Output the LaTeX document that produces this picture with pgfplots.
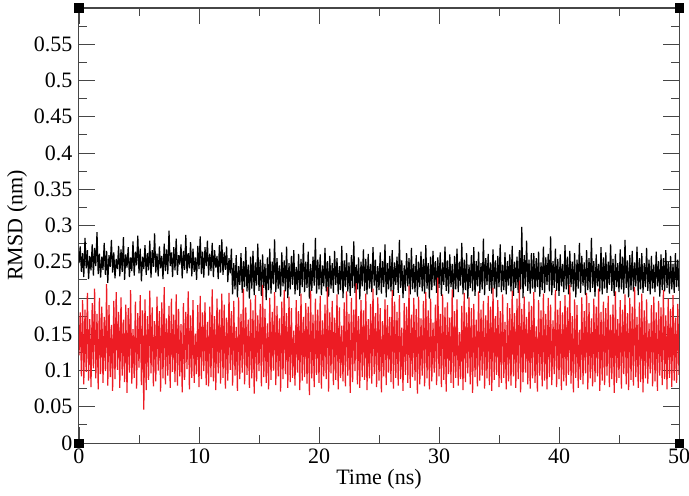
\documentclass[border=0pt]{standalone}
\usepackage{fontspec}
\setmainfont{Liberation Serif}
\usepackage{pgfplots}
\usepackage{pgfplotstable}
\pgfplotsset{compat=1.18}
\definecolor{rmsdred}{RGB}{237,28,36}
\definecolor{axgray}{RGB}{70,70,70}

\pgfplotstableread[row sep=\\]{
y\\
0.248\\ 0.271\\ 0.236\\ 0.262\\ 0.229\\ 0.283\\ 0.241\\ 0.266\\ 0.226\\ 0.258\\ 0.238\\ 0.274\\ 0.231\\ 0.269\\ 0.244\\ 0.291\\ 0.233\\ 0.261\\ 0.228\\ 0.257\\
0.239\\ 0.276\\ 0.232\\ 0.265\\ 0.221\\ 0.259\\ 0.243\\ 0.280\\ 0.235\\ 0.263\\ 0.227\\ 0.254\\ 0.240\\ 0.272\\ 0.230\\ 0.267\\ 0.236\\ 0.284\\ 0.225\\ 0.260\\
0.242\\ 0.270\\ 0.229\\ 0.256\\ 0.237\\ 0.278\\ 0.231\\ 0.264\\ 0.245\\ 0.286\\ 0.234\\ 0.268\\ 0.223\\ 0.257\\ 0.240\\ 0.273\\ 0.232\\ 0.262\\ 0.238\\ 0.279\\
0.228\\ 0.266\\ 0.243\\ 0.289\\ 0.235\\ 0.261\\ 0.230\\ 0.271\\ 0.241\\ 0.258\\ 0.226\\ 0.275\\ 0.237\\ 0.267\\ 0.233\\ 0.293\\ 0.244\\ 0.263\\ 0.229\\ 0.270\\
0.238\\ 0.282\\ 0.232\\ 0.259\\ 0.246\\ 0.274\\ 0.227\\ 0.265\\ 0.239\\ 0.287\\ 0.234\\ 0.262\\ 0.241\\ 0.277\\ 0.230\\ 0.268\\ 0.236\\ 0.256\\ 0.225\\ 0.272\\
0.240\\ 0.285\\ 0.233\\ 0.264\\ 0.228\\ 0.270\\ 0.244\\ 0.279\\ 0.231\\ 0.261\\ 0.237\\ 0.276\\ 0.229\\ 0.266\\ 0.242\\ 0.258\\ 0.226\\ 0.273\\ 0.235\\ 0.281\\
0.232\\ 0.263\\ 0.239\\ 0.271\\ 0.222\\ 0.255\\ 0.234\\ 0.268\\
0.205\\ 0.248\\ 0.212\\ 0.259\\ 0.201\\ 0.244\\ 0.218\\ 0.262\\ 0.207\\ 0.251\\ 0.215\\ 0.270\\ 0.209\\ 0.246\\ 0.199\\ 0.257\\ 0.213\\ 0.265\\ 0.204\\ 0.249\\
0.217\\ 0.275\\ 0.210\\ 0.253\\ 0.203\\ 0.260\\ 0.214\\ 0.247\\ 0.197\\ 0.256\\ 0.211\\ 0.268\\ 0.206\\ 0.250\\ 0.219\\ 0.281\\ 0.208\\ 0.255\\ 0.213\\ 0.245\\
0.202\\ 0.263\\ 0.216\\ 0.252\\ 0.209\\ 0.271\\ 0.200\\ 0.248\\ 0.212\\ 0.258\\ 0.218\\ 0.266\\ 0.205\\ 0.243\\ 0.211\\ 0.261\\ 0.203\\ 0.254\\ 0.215\\ 0.276\\
0.208\\ 0.250\\ 0.214\\ 0.264\\ 0.199\\ 0.247\\ 0.210\\ 0.257\\ 0.217\\ 0.283\\ 0.206\\ 0.253\\ 0.212\\ 0.260\\ 0.204\\ 0.245\\ 0.216\\ 0.269\\ 0.209\\ 0.251\\
0.202\\ 0.258\\ 0.213\\ 0.248\\ 0.207\\ 0.265\\ 0.218\\ 0.255\\ 0.205\\ 0.244\\ 0.211\\ 0.272\\ 0.200\\ 0.252\\ 0.215\\ 0.262\\ 0.209\\ 0.249\\ 0.203\\ 0.259\\
0.214\\ 0.278\\ 0.207\\ 0.246\\ 0.212\\ 0.256\\ 0.198\\ 0.250\\ 0.216\\ 0.267\\ 0.210\\ 0.254\\ 0.205\\ 0.261\\ 0.213\\ 0.247\\ 0.208\\ 0.270\\ 0.217\\ 0.253\\
0.204\\ 0.244\\ 0.211\\ 0.263\\ 0.206\\ 0.251\\ 0.215\\ 0.274\\ 0.201\\ 0.248\\ 0.212\\ 0.258\\ 0.209\\ 0.266\\ 0.203\\ 0.249\\ 0.218\\ 0.257\\ 0.207\\ 0.280\\
0.214\\ 0.252\\ 0.200\\ 0.245\\ 0.210\\ 0.262\\ 0.216\\ 0.255\\ 0.205\\ 0.269\\ 0.212\\ 0.247\\ 0.208\\ 0.259\\ 0.202\\ 0.250\\ 0.215\\ 0.264\\ 0.209\\ 0.254\\
0.206\\ 0.273\\ 0.213\\ 0.248\\ 0.199\\ 0.257\\ 0.211\\ 0.265\\ 0.217\\ 0.251\\
0.207\\ 0.256\\ 0.214\\ 0.263\\ 0.203\\ 0.249\\ 0.218\\ 0.271\\ 0.210\\ 0.252\\ 0.206\\ 0.260\\ 0.215\\ 0.247\\ 0.201\\ 0.258\\ 0.212\\ 0.268\\ 0.208\\ 0.250\\
0.217\\ 0.276\\ 0.205\\ 0.253\\ 0.211\\ 0.262\\ 0.199\\ 0.246\\ 0.214\\ 0.259\\ 0.209\\ 0.270\\ 0.203\\ 0.251\\ 0.216\\ 0.264\\ 0.207\\ 0.248\\ 0.212\\ 0.282\\
0.204\\ 0.255\\ 0.218\\ 0.261\\ 0.210\\ 0.249\\ 0.206\\ 0.267\\ 0.213\\ 0.252\\ 0.201\\ 0.258\\ 0.215\\ 0.274\\ 0.208\\ 0.246\\ 0.211\\ 0.263\\ 0.205\\ 0.251\\
0.217\\ 0.260\\ 0.209\\ 0.272\\ 0.203\\ 0.250\\ 0.214\\ 0.257\\ 0.207\\ 0.266\\ 0.212\\ 0.298\\ 0.200\\ 0.259\\ 0.216\\ 0.279\\ 0.210\\ 0.253\\ 0.206\\ 0.262\\
0.213\\ 0.262\\ 0.208\\ 0.255\\ 0.215\\ 0.264\\ 0.202\\ 0.249\\ 0.211\\ 0.271\\ 0.207\\ 0.256\\ 0.218\\ 0.261\\ 0.209\\ 0.285\\ 0.204\\ 0.251\\ 0.214\\ 0.268\\
0.210\\ 0.254\\ 0.203\\ 0.260\\ 0.216\\ 0.247\\ 0.208\\ 0.273\\ 0.212\\ 0.257\\ 0.205\\ 0.265\\ 0.215\\ 0.250\\ 0.209\\ 0.262\\ 0.201\\ 0.253\\ 0.213\\ 0.276\\
0.207\\ 0.258\\ 0.217\\ 0.249\\ 0.204\\ 0.266\\ 0.211\\ 0.255\\ 0.208\\ 0.283\\ 0.214\\ 0.251\\ 0.202\\ 0.260\\ 0.216\\ 0.247\\ 0.209\\ 0.270\\ 0.205\\ 0.256\\
0.213\\ 0.263\\ 0.207\\ 0.250\\ 0.218\\ 0.274\\ 0.210\\ 0.254\\ 0.203\\ 0.261\\ 0.215\\ 0.248\\ 0.208\\ 0.267\\ 0.212\\ 0.257\\ 0.206\\ 0.280\\ 0.214\\ 0.252\\
0.201\\ 0.259\\ 0.211\\ 0.265\\ 0.209\\ 0.249\\ 0.216\\ 0.271\\ 0.204\\ 0.255\\ 0.212\\ 0.262\\ 0.207\\ 0.248\\ 0.215\\ 0.269\\ 0.210\\ 0.253\\ 0.205\\ 0.258\\
0.213\\ 0.246\\ 0.208\\ 0.264\\ 0.216\\ 0.251\\ 0.202\\ 0.260\\ 0.211\\ 0.255\\ 0.209\\ 0.266\\ 0.214\\ 0.250\\ 0.206\\ 0.258\\ 0.212\\ 0.247\\ 0.207\\ 0.262\\
0.215\\ 0.253\\ 0.210\\
}\blackdata

\pgfplotstableread[row sep=\\]{
y\\
0.121\\ 0.180\\ 0.092\\ 0.197\\ 0.081\\ 0.184\\ 0.098\\ 0.207\\ 0.086\\ 0.171\\ 0.077\\ 0.193\\ 0.103\\ 0.213\\ 0.089\\ 0.178\\ 0.074\\ 0.200\\ 0.095\\ 0.188\\
0.083\\ 0.174\\ 0.099\\ 0.219\\ 0.079\\ 0.190\\ 0.091\\ 0.163\\ 0.072\\ 0.196\\ 0.088\\ 0.208\\ 0.101\\ 0.181\\ 0.076\\ 0.201\\ 0.093\\ 0.170\\ 0.084\\ 0.191\\
0.069\\ 0.186\\ 0.097\\ 0.211\\ 0.082\\ 0.157\\ 0.090\\ 0.195\\ 0.075\\ 0.179\\ 0.104\\ 0.204\\ 0.080\\ 0.183\\ 0.046\\ 0.198\\ 0.073\\ 0.175\\ 0.087\\ 0.210\\
0.096\\ 0.187\\ 0.078\\ 0.168\\ 0.085\\ 0.202\\ 0.100\\ 0.182\\ 0.071\\ 0.194\\ 0.089\\ 0.215\\ 0.081\\ 0.172\\ 0.093\\ 0.189\\ 0.076\\ 0.199\\ 0.098\\ 0.177\\
0.084\\ 0.205\\ 0.079\\ 0.185\\ 0.092\\ 0.164\\ 0.070\\ 0.193\\ 0.087\\ 0.181\\ 0.102\\ 0.209\\ 0.074\\ 0.176\\ 0.090\\ 0.197\\ 0.083\\ 0.151\\ 0.095\\ 0.190\\
0.077\\ 0.203\\ 0.088\\ 0.180\\ 0.099\\ 0.194\\ 0.080\\ 0.167\\ 0.078\\ 0.188\\ 0.091\\ 0.212\\ 0.085\\ 0.175\\ 0.073\\ 0.199\\ 0.096\\ 0.184\\ 0.082\\ 0.206\\
0.090\\ 0.191\\ 0.075\\ 0.173\\ 0.086\\ 0.207\\ 0.101\\ 0.182\\ 0.079\\ 0.196\\ 0.093\\ 0.160\\ 0.072\\ 0.201\\ 0.088\\ 0.178\\ 0.097\\ 0.213\\ 0.081\\ 0.187\\
0.094\\ 0.170\\ 0.076\\ 0.198\\ 0.089\\ 0.183\\ 0.068\\ 0.204\\ 0.085\\ 0.176\\ 0.099\\ 0.192\\ 0.078\\ 0.218\\ 0.091\\ 0.185\\ 0.083\\ 0.165\\ 0.074\\ 0.200\\
0.087\\ 0.181\\ 0.100\\ 0.208\\ 0.080\\ 0.189\\ 0.092\\ 0.172\\ 0.071\\ 0.195\\ 0.088\\ 0.211\\ 0.095\\ 0.179\\ 0.076\\ 0.202\\ 0.084\\ 0.186\\ 0.090\\ 0.155\\
0.079\\ 0.197\\ 0.097\\ 0.182\\ 0.073\\ 0.206\\ 0.086\\ 0.174\\ 0.091\\ 0.193\\ 0.082\\ 0.188\\ 0.066\\ 0.210\\ 0.089\\ 0.177\\ 0.077\\ 0.199\\ 0.094\\ 0.184\\
0.083\\ 0.203\\ 0.075\\ 0.169\\ 0.092\\ 0.191\\ 0.088\\ 0.215\\ 0.071\\ 0.180\\ 0.096\\ 0.196\\ 0.080\\ 0.173\\ 0.087\\ 0.205\\ 0.074\\ 0.187\\ 0.090\\ 0.162\\
0.085\\ 0.194\\ 0.078\\ 0.209\\ 0.093\\ 0.178\\ 0.069\\ 0.200\\ 0.084\\ 0.184\\ 0.099\\ 0.220\\ 0.081\\ 0.175\\ 0.076\\ 0.197\\ 0.091\\ 0.183\\ 0.087\\ 0.206\\
0.073\\ 0.171\\ 0.089\\ 0.192\\ 0.082\\ 0.213\\ 0.095\\ 0.179\\ 0.077\\ 0.201\\ 0.086\\ 0.186\\ 0.070\\ 0.168\\ 0.092\\ 0.198\\ 0.080\\ 0.190\\ 0.097\\ 0.174\\
0.084\\ 0.211\\ 0.075\\ 0.195\\ 0.090\\ 0.181\\ 0.079\\ 0.204\\ 0.088\\ 0.159\\ 0.072\\ 0.193\\ 0.094\\ 0.188\\ 0.083\\ 0.217\\ 0.076\\ 0.177\\ 0.091\\ 0.200\\
0.086\\ 0.185\\ 0.068\\ 0.202\\ 0.081\\ 0.172\\ 0.093\\ 0.196\\ 0.078\\ 0.208\\ 0.089\\ 0.183\\ 0.074\\ 0.199\\ 0.085\\ 0.166\\ 0.097\\ 0.191\\ 0.080\\ 0.228\\
0.092\\ 0.178\\ 0.077\\ 0.205\\ 0.087\\ 0.187\\ 0.071\\ 0.194\\ 0.095\\ 0.173\\ 0.083\\ 0.212\\ 0.076\\ 0.182\\ 0.090\\ 0.198\\ 0.079\\ 0.153\\ 0.088\\ 0.189\\
0.073\\ 0.207\\ 0.084\\ 0.180\\ 0.096\\ 0.201\\ 0.081\\ 0.186\\ 0.069\\ 0.192\\ 0.091\\ 0.170\\ 0.078\\ 0.209\\ 0.086\\ 0.184\\ 0.093\\ 0.196\\ 0.075\\ 0.176\\
0.089\\ 0.203\\ 0.080\\ 0.188\\ 0.072\\ 0.214\\ 0.087\\ 0.175\\ 0.094\\ 0.197\\ 0.077\\ 0.182\\ 0.083\\ 0.205\\ 0.090\\ 0.167\\ 0.074\\ 0.193\\ 0.085\\ 0.186\\
0.079\\ 0.210\\ 0.092\\ 0.179\\ 0.076\\ 0.199\\ 0.088\\ 0.224\\ 0.070\\ 0.185\\ 0.084\\ 0.202\\ 0.097\\ 0.174\\ 0.081\\ 0.195\\ 0.075\\ 0.189\\ 0.089\\ 0.208\\
0.083\\ 0.161\\ 0.071\\ 0.197\\ 0.093\\ 0.183\\ 0.078\\ 0.206\\ 0.086\\ 0.178\\ 0.074\\ 0.200\\ 0.091\\ 0.191\\ 0.080\\ 0.169\\ 0.095\\ 0.211\\ 0.077\\ 0.184\\
0.088\\ 0.196\\ 0.073\\ 0.180\\ 0.085\\ 0.204\\ 0.079\\ 0.187\\ 0.094\\ 0.218\\ 0.082\\ 0.175\\ 0.070\\ 0.198\\ 0.090\\ 0.190\\ 0.076\\ 0.156\\ 0.087\\ 0.201\\
0.081\\ 0.182\\ 0.096\\ 0.207\\ 0.074\\ 0.193\\ 0.089\\ 0.172\\ 0.078\\ 0.199\\ 0.084\\ 0.188\\ 0.092\\ 0.213\\ 0.072\\ 0.181\\ 0.086\\ 0.195\\ 0.080\\ 0.186\\
0.093\\ 0.203\\ 0.077\\ 0.177\\ 0.088\\ 0.191\\ 0.069\\ 0.209\\ 0.083\\ 0.171\\ 0.090\\ 0.197\\ 0.075\\ 0.184\\ 0.095\\ 0.205\\ 0.081\\ 0.179\\ 0.073\\ 0.200\\
0.087\\ 0.188\\ 0.079\\ 0.215\\ 0.091\\ 0.174\\ 0.076\\ 0.194\\ 0.084\\ 0.206\\ 0.070\\ 0.183\\ 0.089\\ 0.198\\ 0.082\\ 0.165\\ 0.096\\ 0.190\\ 0.078\\ 0.202\\
0.085\\ 0.180\\ 0.072\\ 0.196\\ 0.093\\ 0.187\\ 0.080\\ 0.211\\ 0.088\\ 0.176\\ 0.074\\ 0.199\\ 0.090\\ 0.185\\ 0.077\\ 0.204\\ 0.086\\ 0.173\\ 0.083\\ 0.192\\
0.094\\
}\reddata

\begin{document}
\fontsize{22}{26}\selectfont
\begin{tikzpicture}
\begin{axis}[
  scale only axis,
  width=600pt, height=435pt,
  xmin=0, xmax=50, ymin=0, ymax=0.6,
  xtick={0,10,20,30,40,50},
  ytick={0,0.05,0.1,0.15,0.2,0.25,0.3,0.35,0.4,0.45,0.5,0.55},
  minor xtick={5,15,25,35,45},
  minor ytick={0.025,0.075,0.125,0.175,0.225,0.275,0.325,0.375,0.425,0.475,0.525,0.575},
  major tick length=16pt, minor tick length=8pt,
  tick align=inside,
  tick style={axgray, line width=0.9pt},
  axis line style={axgray, line width=1pt},
  /pgf/number format/assume math mode=true,
  /pgf/number format/fixed,
  /pgf/number format/precision=2,
  tick label style={font=\fontsize{22}{26}\selectfont},
  label style={font=\fontsize{22}{26}\selectfont},
  xlabel={Time (ns)},
  ylabel={RMSD (nm)},
  xlabel style={yshift=9pt},
  ylabel style={yshift=-8pt},
  xticklabel style={yshift=2pt},
  yticklabel style={xshift=1pt},
  clip=false,
]
\begin{scope}
\clip (axis cs:0,0) rectangle (axis cs:50,0.6);
\addplot[black, line width=1.2pt, no marks, line join=bevel] table[x expr=\coordindex/10, y=y] {\blackdata};
\addplot[rmsdred, line width=1.2pt, no marks, line join=bevel] table[x expr=\coordindex/10, y=y] {\reddata};
\end{scope}
\addplot[only marks, mark=square*, mark size=4.3pt, black] coordinates {(0,0) (50,0) (0,0.6) (50,0.6)};
\end{axis}
\pgfresetboundingbox
\path[use as bounding box] (current axis.south west) ++(-79pt,-52pt) rectangle ([xshift=10pt,yshift=8pt]current axis.north east);
\end{tikzpicture}
\end{document}
